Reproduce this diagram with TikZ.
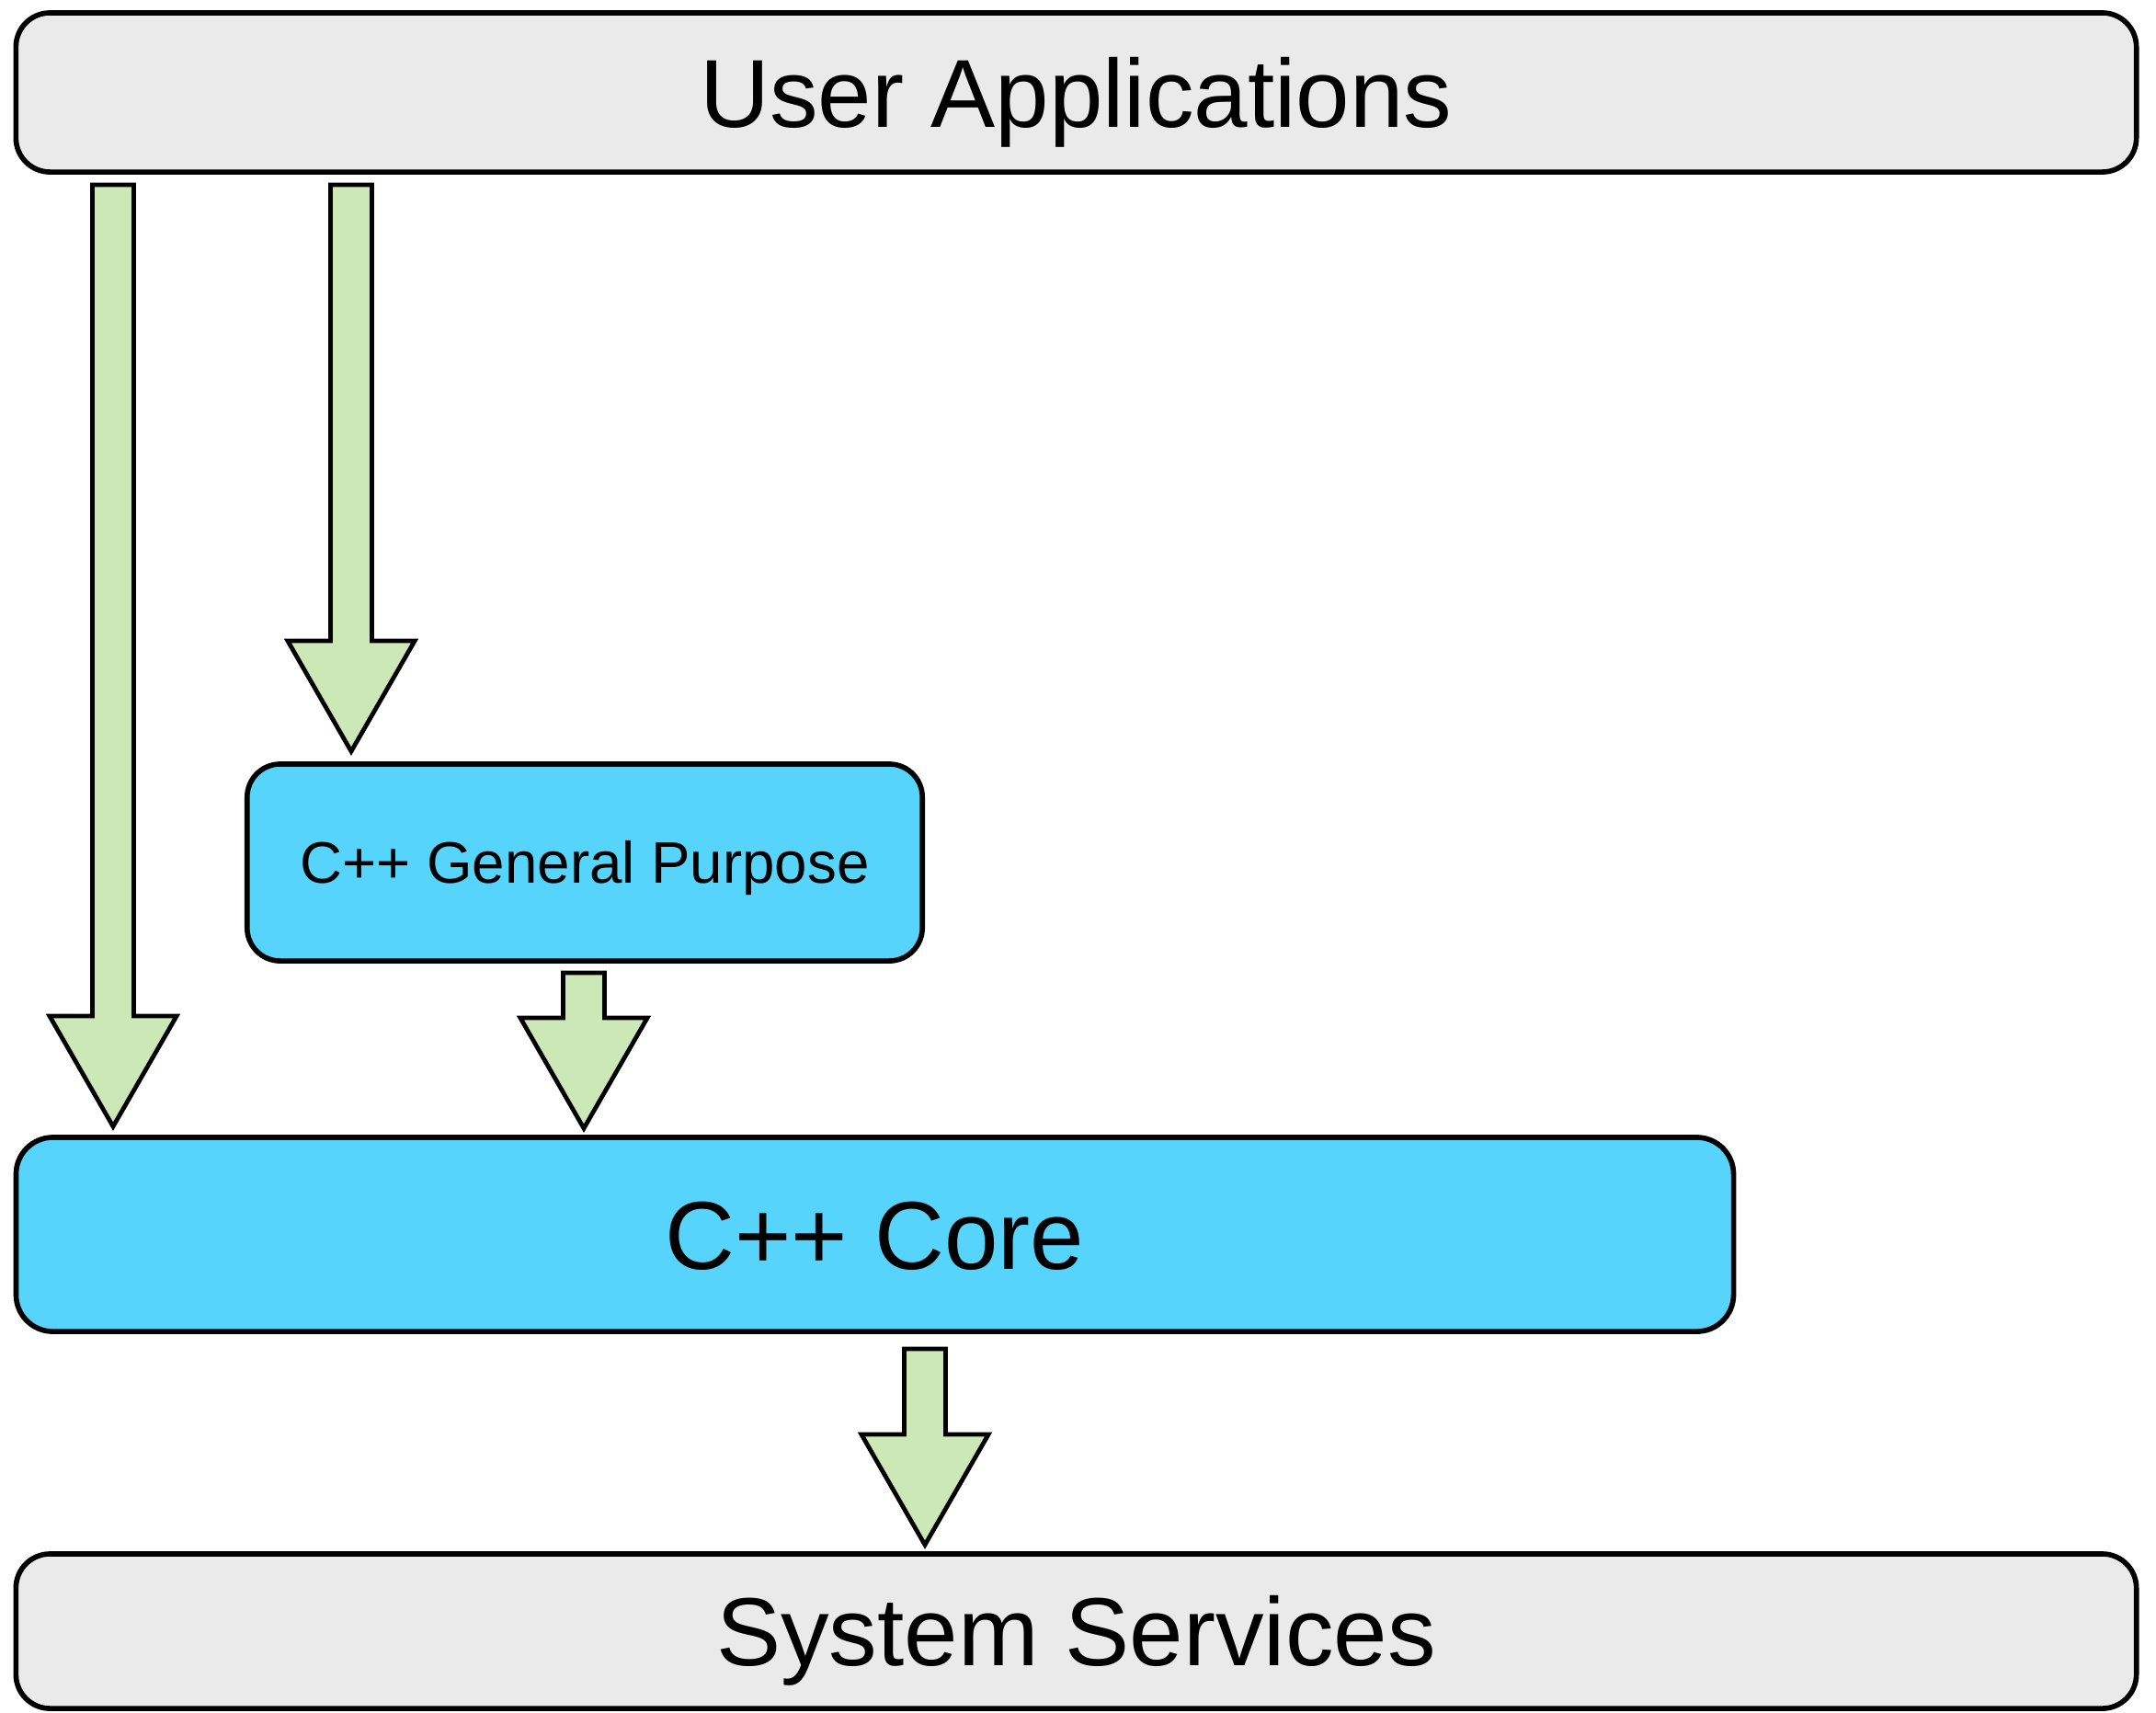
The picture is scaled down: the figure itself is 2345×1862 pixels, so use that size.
\documentclass[tikz,border=0pt]{standalone}
\usepackage{fontspec}
\setmainfont{Liberation Sans}
\usetikzlibrary{calc}

\definecolor{layergray}{HTML}{EAEAEA}
\definecolor{cppblue}{HTML}{56D4FC}
\definecolor{flowgreen}{HTML}{CDE8B7}

% wide block arrow from shaft top #1 down to tip #2
\newcommand\blockarrow[2]{%
  \path[flowarrow] let \p1=(#1), \p2=(#2) in
    (\x1-0.225cm,\y1) -- (\x1+0.225cm,\y1) -- (\x1+0.225cm,\y2+1.2cm)
    -- (\x1+0.69cm,\y2+1.2cm) -- (\x1,\y2) -- (\x1-0.69cm,\y2+1.2cm)
    -- (\x1-0.225cm,\y2+1.2cm) -- cycle;}

\tikzset{
  layerbox/.style={draw=black, line width=1.6pt, rounded corners=0.37cm,
    inner sep=0pt, anchor=center},
  bigtext/.style={font=\fontsize{29.9pt}{36pt}\selectfont,
    text height=21.4pt, text depth=0pt},
  smalltext/.style={font=\fontsize{18.1pt}{22pt}\selectfont,
    text height=12.96pt, text depth=0pt},
  flowarrow/.style={draw=black, line width=1.35pt, fill=flowgreen,
    line join=miter},
}

\begin{document}
\begin{tikzpicture}[x=0.01cm, y=-0.01cm]
\useasboundingbox (0,0) rectangle (2345,1862);

% layers
\node[layerbox, bigtext, fill=layergray, minimum width=23.05cm, minimum height=1.73cm]
  (user) at (1170.5,100.5) {User Applications};
\node[layerbox, smalltext, fill=cppblue, minimum width=7.34cm, minimum height=2.14cm,
  rounded corners=0.36cm]
  (gp) at (636,938) {C++ General Purpose};
\node[layerbox, bigtext, fill=cppblue, minimum width=18.67cm, minimum height=2.11cm,
  rounded corners=0.40cm]
  (core) at (951.5,1342.5) {C++ Core};
\node[layerbox, bigtext, fill=layergray, minimum width=23.05cm, minimum height=1.68cm]
  (sys) at (1170.5,1774) {System Services};

% arrow end points
\coordinate (a1s) at ([yshift=-0.11cm]user.south -| 123,0);
\coordinate (a1e) at ([yshift=0.09cm]core.north -| 123,0);
\coordinate (a2s) at ([yshift=-0.11cm]user.south -| 382,0);
\coordinate (a2e) at ([yshift=0.11cm]gp.north -| 382,0);
\coordinate (a3s) at ([yshift=-0.10cm]gp.south -| 635,0);
\coordinate (a3e) at ([yshift=0.07cm]core.north -| 635,0);
\coordinate (a4s) at ([yshift=-0.16cm]core.south -| 1006,0);
\coordinate (a4e) at ([yshift=0.07cm]sys.north -| 1006,0);

% calls between layers
\blockarrow{a1s}{a1e}
\blockarrow{a2s}{a2e}
\blockarrow{a3s}{a3e}
\blockarrow{a4s}{a4e}
\end{tikzpicture}
\end{document}
